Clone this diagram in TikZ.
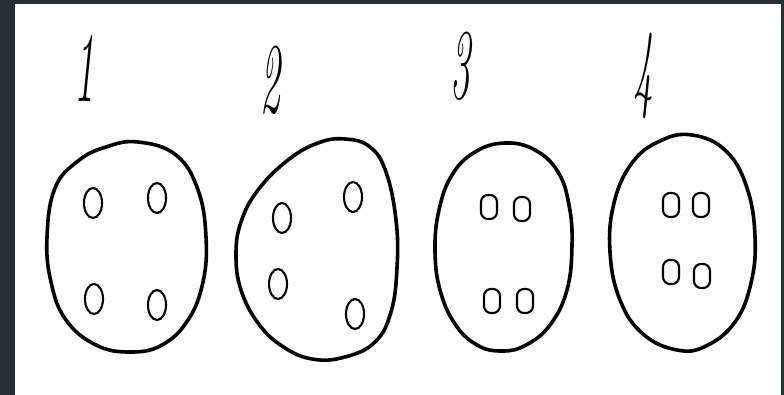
\documentclass[tikz,border=0pt]{standalone}
\usepackage{tikz}
\usepackage{xcolor}
\definecolor{frame}{RGB}{38,46,54}
\usetikzlibrary{positioning}

\begin{document}
\begin{tikzpicture}[x=1pt,y=-1pt,
    blob/.style={line width=3.6pt, line join=round},
    hole/.style={line width=2.1pt},
    pair/.style={line width=2.1pt, rounded corners=7pt},
    num/.style={inner sep=0pt, yscale=2.5, font=\fontsize{40}{40}\selectfont\itshape}]
    \useasboundingbox (0,0) rectangle (784,395);
    \fill[frame] (0,0) rectangle (784,395);
    \fill[white] (15,4) rectangle (781,395);
    % numbers
    \node[num] (n1) at (84,68) {1};
    \node[num] (n2) at (270,80) {2};
    \node[num] (n3) at (460,66) {3};
    \node[num] (n4) at (643,76) {4};
    % outlines
    \draw[blob] plot[smooth cycle, tension=0.7] coordinates {(138,142) (176,155) (198,190) (206,237) (203,282) (188,320) (162,345) (130,352) (96,345) (66,320) (51,282) (47,237) (55,188) (78,161) (106,147)};
    \draw[blob] plot[smooth cycle, tension=0.7] coordinates {(345,139) (370,147) (386,172) (396,220) (397,268) (391,312) (375,342) (345,357) (312,359) (282,346) (258,323) (241,290) (236,255) (241,222) (258,190) (288,160) (318,143)};
    \draw[blob] plot[smooth cycle, tension=0.7] coordinates {(505,143) (535,150) (558,172) (569,205) (572,245) (567,290) (550,325) (526,345) (502,351) (477,345) (455,324) (440,290) (435,250) (439,210) (452,175) (475,152)};
    \draw[blob] plot[smooth cycle, tension=0.7] coordinates {(692,135) (726,151) (747,188) (755,237) (751,283) (735,322) (706,346) (677,350) (643,334) (620,300) (610,252) (614,203) (632,163) (660,141)};
    % holes
    \foreach \hx/\hy in {93/203, 157/198, 94/299, 157/305, 282/218, 353/197, 278/284, 355/314}
        \draw[hole] (\hx,\hy) ellipse (9 and 15);
    \foreach \hx/\hy in {489/207, 522/209, 492/301, 525/301, 671/205, 701/205, 671/272, 702/276}
        \draw[pair] (\hx-8,\hy-12) rectangle (\hx+8,\hy+12);
\end{tikzpicture}
\end{document}
